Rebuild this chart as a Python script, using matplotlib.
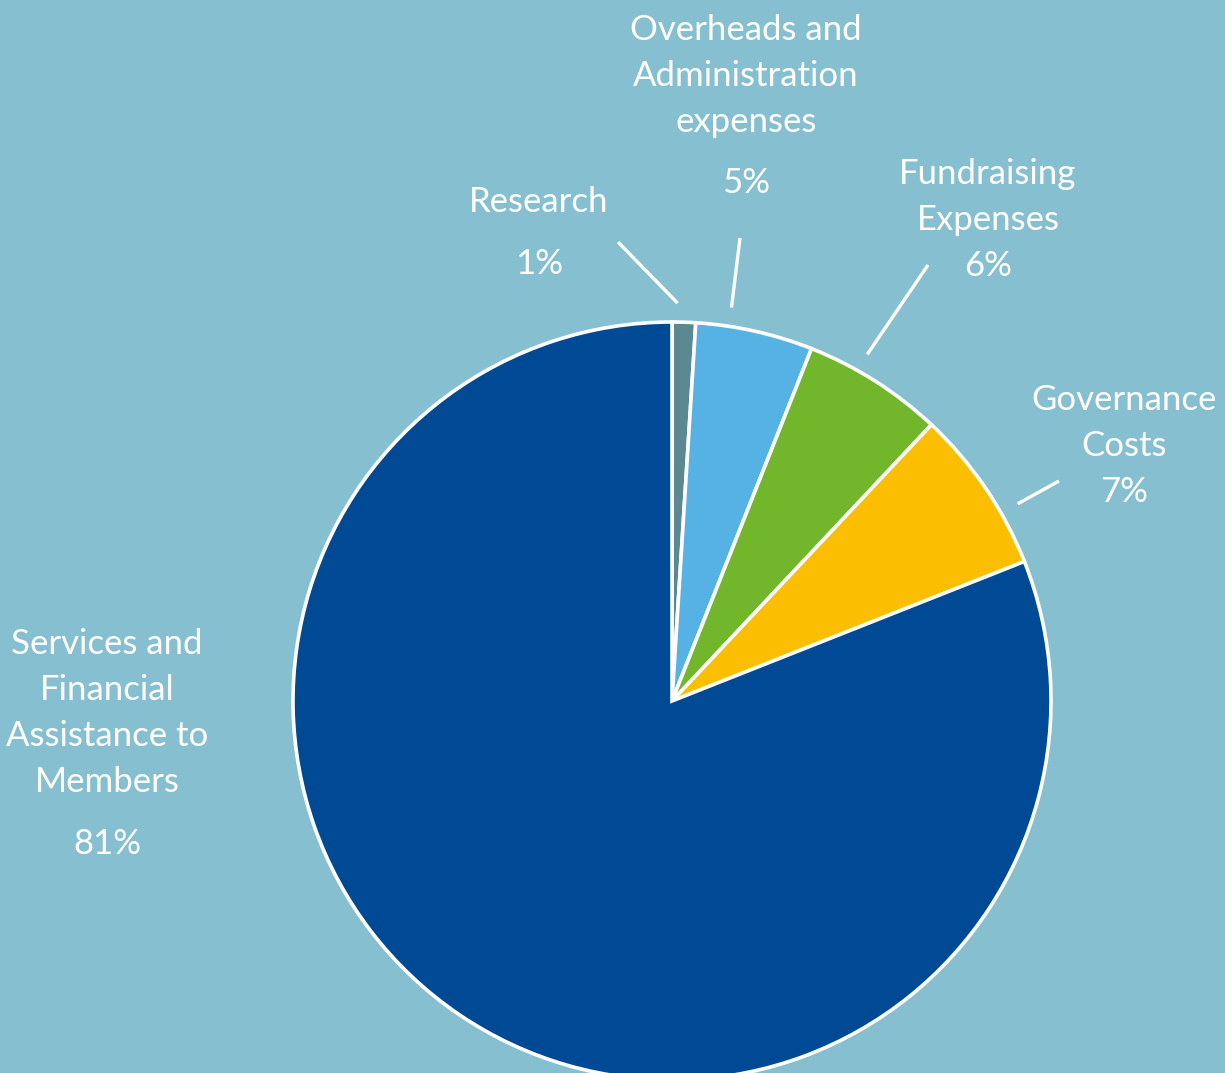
import matplotlib
matplotlib.use("Agg")
import matplotlib.pyplot as plt
import numpy as np

# Expense breakdown
categories = ["Research", "Overheads and Administration expenses",
              "Fundraising Expenses", "Governance Costs",
              "Services and Financial Assistance to Members"]
values = [1, 5, 6, 7, 81]
colors = ["#5b8891", "#56b1e4", "#72b62c", "#fbbe00", "#004994"]

# Label text: (name lines, secondary lines, percentage)
label_lines = [
    (["Research"], [], "1%"),
    (["Overheads and", "Administration", "expenses"], [], "5%"),
    (["Fundraising", "Expenses"], [], "6%"),
    (["Governance"], ["Costs"], "7%"),
    (["Services and", "Financial", "Assistance to", "Members"], [], "81%"),
]

W, H = 1225, 1073
BG = "#86c0d0"
plt.rcParams["font.family"] = ["Lato", "DejaVu Sans"]

fig = plt.figure(figsize=(W / 100, H / 100), dpi=100, facecolor=BG)
ax = fig.add_axes([0, 0, 1, 1])
ax.set_facecolor(BG)
ax.set_xlim(0, W)
ax.set_ylim(0, H)
ax.set_aspect("equal")
ax.axis("off")

cx, cy, R = 672, H - 701, 379
wedges, _ = ax.pie(values, colors=colors, startangle=90, counterclock=False,
                   center=(cx, cy), radius=R,
                   wedgeprops=dict(edgecolor="white", linewidth=2.6))
ax.set_xlim(0, W)
ax.set_ylim(0, H)

# Label block layout: x centre, y of first line (pixels from top), line step,
# extra gap before the percentage, leader end point (or None), leader angle offset
layout = [
    dict(x=539, y=202, step=46, gap=16, end=(618, 242), off=1.0),
    dict(x=746, y=30, step=46, gap=15, end=(740, 238), off=4.0),
    dict(x=988, y=174, step=46, gap=0, end=(928, 265), off=3.0),
    dict(x=1124, y=400, step=46, gap=0, end=(1059, 481), off=-4.5),
    dict(x=107, y=644, step=46, gap=16, end=None, off=0),
]

fs = 25
cum = np.cumsum([0] + values)
for i, (names, seconds, pct) in enumerate(label_lines):
    L = layout[i]
    y = L["y"]
    for s in names + seconds:
        ax.text(L["x"], H - y, s, ha="center", va="center", color="white",
                fontsize=fs, fontweight="normal")
        y += L["step"]
    y += L["gap"]
    ax.text(L["x"], H - y, pct, ha="center", va="center", color="white",
            fontsize=fs, fontweight="normal")
    if L["end"] is not None:
        mid = 90 - (cum[i] + values[i] / 2) * 3.6 + L["off"]
        a = np.deg2rad(mid)
        x0, y0 = cx + 1.05 * R * np.cos(a), cy + 1.05 * R * np.sin(a)
        ex, ey = L["end"]
        ax.plot([x0, ex], [y0, H - ey], color="white", lw=2.4,
                solid_capstyle="butt")

fig.savefig("out.png", dpi=100, facecolor=BG)
